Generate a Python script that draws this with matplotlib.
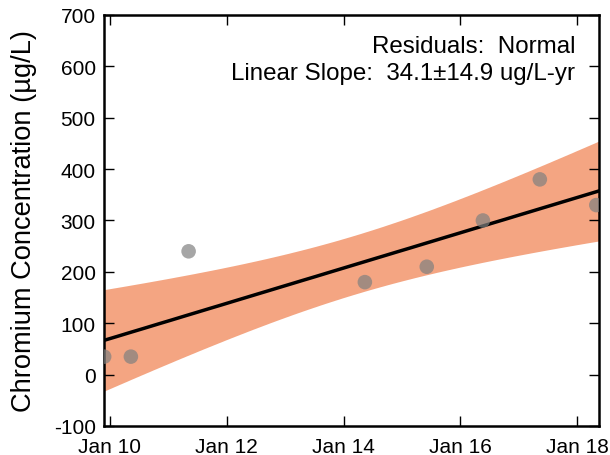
import numpy as np
import pandas as pd
import matplotlib.pyplot as plt
import matplotlib.dates as mdates

plt.rcParams["font.family"] = ["Liberation Sans", "DejaVu Sans"]
plt.rcParams["axes.unicode_minus"] = False

# sample dates and chromium results (ug/L)
sample_dates = pd.to_datetime([
    "2009-11-26", "2010-05-12", "2011-05-08", "2014-05-14",
    "2015-06-05", "2016-05-21", "2017-05-12", "2018-04-30",
])
chromium = [35, 35, 240, 180, 210, 300, 380, 330]

x_start = pd.Timestamp("2009-11-25")
x_end = pd.Timestamp("2018-05-17")
T_CRIT = 2.447  # t, 6 dof, 95%

BAND_COLOR = "#F4A582"
POINT_COLOR = "#808080"

# ordinary least squares in years
t0 = sample_dates[0]
yrs = np.array((sample_dates - t0).days) / 365.25
y = np.array(chromium, dtype=float)
n = len(y)
slope, intercept = np.polyfit(yrs, y, 1)
resid = y - (slope * yrs + intercept)
s = np.sqrt(np.sum(resid ** 2) / (n - 2))
sxx = np.sum((yrs - yrs.mean()) ** 2)

grid = pd.date_range(x_start, x_end, periods=200)
gyrs = np.array((grid - t0).days) / 365.25
fit = slope * gyrs + intercept
half = T_CRIT * s * np.sqrt(1.0 / n + (gyrs - yrs.mean()) ** 2 / sxx)

fig = plt.figure(figsize=(6.1, 4.56), dpi=100)
ax = fig.add_axes([0.1705, 0.0636, 0.8115, 0.9014])

ax.fill_between(grid, fit - half, fit + half, color=BAND_COLOR, lw=0, zorder=1)
ax.plot(grid, fit, color="black", lw=2.5, zorder=2)
ax.scatter(sample_dates, chromium, s=110, color=POINT_COLOR, alpha=0.7,
           edgecolors="none", zorder=3, clip_on=True)

ax.set_xlim(x_start, x_end)
ax.set_ylim(-100, 700)
ax.set_yticks(np.arange(-100, 701, 100))
ax.xaxis.set_major_locator(mdates.YearLocator(2, month=1, day=1))
ax.xaxis.set_major_formatter(mdates.DateFormatter("Jan %y"))

ax.tick_params(direction="in", top=True, right=True, length=7, width=1,
               labelsize=15, pad=6)
ax.tick_params(axis="x", pad=8)
for sp in ax.spines.values():
    sp.set_linewidth(1.8)

ax.set_ylabel("Chromium Concentration (µg/L)", fontsize=19.6, labelpad=12)

ax.text(0.952, 0.952, "Residuals:  Normal", transform=ax.transAxes,
        ha="right", va="top", fontsize=17.4)
ax.text(0.952, 0.886, "Linear Slope:  34.1±14.9 ug/L-yr", transform=ax.transAxes,
        ha="right", va="top", fontsize=17.4)

fig.savefig("out.png", dpi=100)
